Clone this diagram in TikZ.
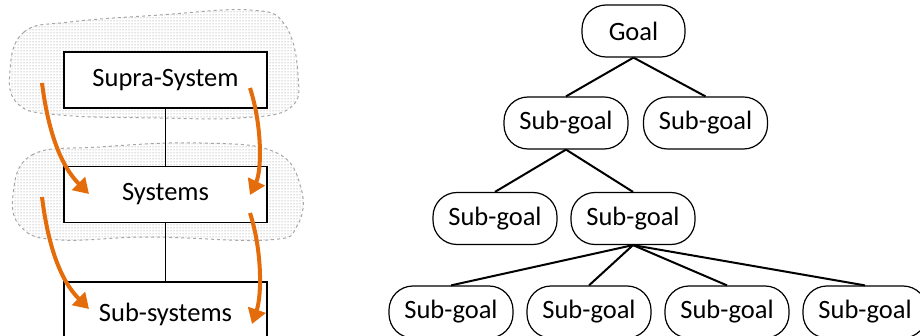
\documentclass[tikz,border=0pt]{standalone}
\usepackage{fontspec}
\setmainfont{Carlito}
\usetikzlibrary{arrows.meta,patterns,positioning}
\definecolor{arroworange}{RGB}{228,108,10}
\tikzset{
  sysbox/.style={draw=black, line width=1.5pt, fill=white, minimum width=203pt, minimum height=56pt, inner sep=0pt, font=\fontsize{26.5}{30}\selectfont},
  goalbox/.style={draw=black, line width=1.2pt, fill=white, rounded corners=24pt, minimum width=124pt, minimum height=52pt, inner sep=0pt, font=\fontsize{26.5}{30}\selectfont},
  blob/.style={draw=gray!70, dashed, line width=1pt, pattern=dots, pattern color=gray},
  flow/.style={draw=arroworange, line width=4pt, -{Triangle[length=15pt,width=18pt]}},
  tree/.style={draw=black, line width=2pt},
  link/.style={draw=black, line width=1.6pt}
}
\begin{document}
\begin{tikzpicture}[x=1pt,y=-1pt]
\useasboundingbox (0,0) rectangle (920,336);
\clip (0,0) rectangle (920,336);
% blobs
\path[blob] plot[smooth cycle, tension=0.7] coordinates {(10,70) (24,32) (70,22) (160,15) (250,10) (285,25) (298,75) (290,108) (240,118) (160,118) (60,115) (18,104)};
\path[blob] plot[smooth cycle, tension=0.7] coordinates {(13,195) (32,155) (100,147) (200,143) (275,152) (301,188) (297,226) (268,240) (150,237) (60,240) (22,228)};
% left boxes
\node[sysbox] (supra) at (165.5,80) {Supra-System};
\node[sysbox] (sys) at (165.5,194.5) {Systems};
\node[sysbox, minimum height=64pt] (sub) at (165.5,314) {Sub-systems};
\draw[link] (supra.south) -- (sys.north);
\draw[link] (sys.south) -- (sub.north);
% orange arrows
\coordinate (a1s) at (42,83);
\coordinate (a1e) at (89,194);
\coordinate (a2s) at (250,88);
\coordinate (a2e) at (250,195);
\coordinate (a3s) at (42,197);
\coordinate (a3e) at (89,309);
\coordinate (a4s) at (250,213);
\coordinate (a4e) at (252,324);
\draw[flow] (a1s) .. controls (48,130) and (60,165) .. (a1e);
\draw[flow] (a2s) .. controls (262,125) and (262,170) .. (a2e);
\draw[flow] (a3s) .. controls (48,245) and (60,280) .. (a3e);
\draw[flow] (a4s) .. controls (262,250) and (262,295) .. (a4e);
% tree
\node[goalbox, minimum width=103pt] (g) at (633.5,31) {Goal};
\node[goalbox] (s1) at (566,123) {Sub-goal};
\node[goalbox] (s2) at (705.5,123) {Sub-goal};
\node[goalbox] (s3) at (495,218.5) {Sub-goal};
\node[goalbox] (s4) at (633,218.5) {Sub-goal};
\node[goalbox] (s5) at (451,312) {Sub-goal};
\node[goalbox] (s6) at (589,312) {Sub-goal};
\node[goalbox] (s7) at (727,312) {Sub-goal};
\node[goalbox] (s8) at (865,312) {Sub-goal};
\draw[tree] (g.south) -- (s1.north);
\draw[tree] (g.south) -- (s2.north);
\draw[tree] (s1.south) -- (s3.north);
\draw[tree] (s1.south) -- (s4.north);
\draw[tree] (s4.south) -- (s5.north);
\draw[tree] (s4.south) -- (s6.north);
\draw[tree] (s4.south) -- (s7.north);
\draw[tree] (s4.south) -- (s8.north);
\end{tikzpicture}
\end{document}
